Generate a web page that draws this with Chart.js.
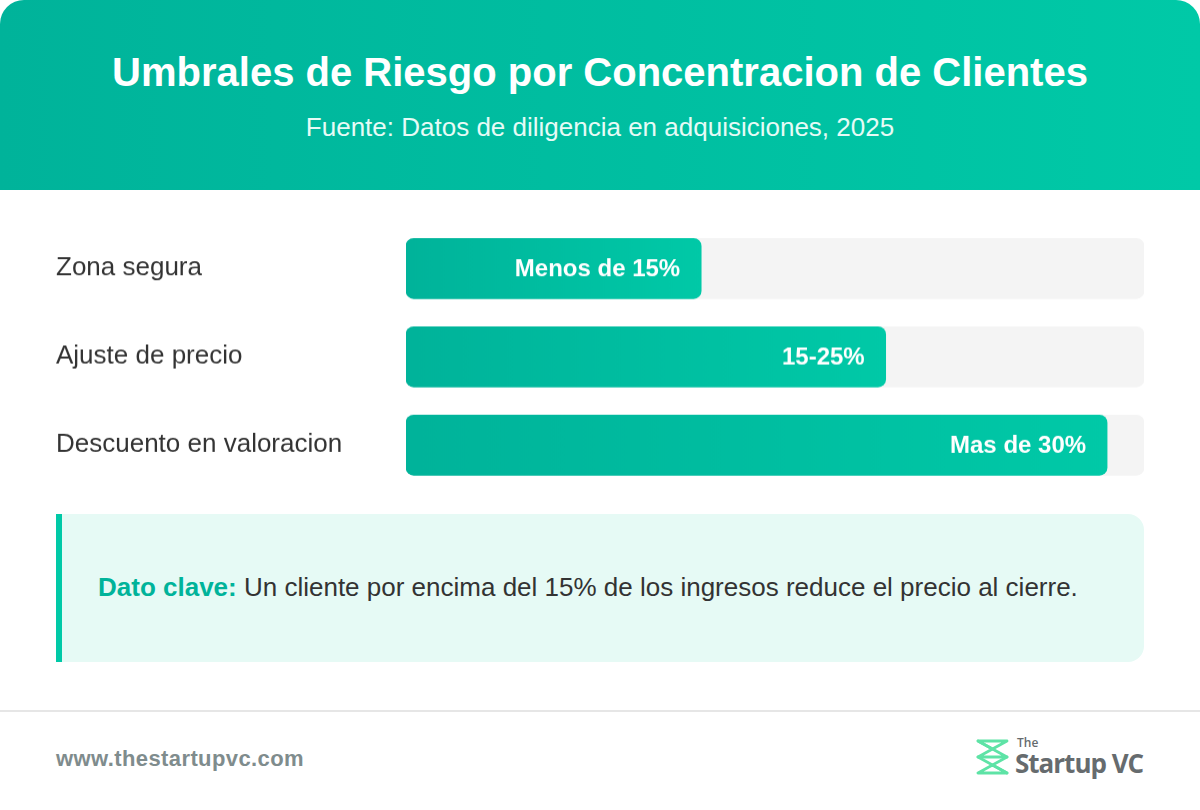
<!DOCTYPE html>
<html>
<head>
<meta charset="utf-8">
<script src="https://cdn.jsdelivr.net/npm/chart.js@4.4.1/dist/chart.umd.min.js"></script>
<style>
  html, body { margin: 0; padding: 0; background: #ffffff; }
  body { width: 1200px; height: 810px; position: relative; overflow: hidden; font-family: "Liberation Sans", Arial, sans-serif; }
  .card { position: absolute; left: 0; top: 0; width: 1200px; height: 810px; background: #ffffff; border-radius: 24px; overflow: hidden; }
  .header { position: absolute; left: 0; top: 0; width: 1200px; height: 190px; background: linear-gradient(90deg, #00b39a 0%, #00c9a7 100%); }
  .title { position: absolute; left: 0; width: 1200px; top: 46px; text-align: center; color: #ffffff; font-weight: bold; font-size: 40px; line-height: 52px; }
  .subtitle { position: absolute; left: 0; width: 1200px; top: 111px; text-align: center; color: #e6fbf6; font-size: 26px; line-height: 32px; }
  #chartWrap { position: absolute; left: 56px; top: 210px; width: 1088px; height: 292.6px; }
  .callout { position: absolute; left: 56px; top: 514px; width: 1088px; height: 148px; background: #e6faf5; border-radius: 0 16px 16px 0; box-sizing: border-box; border-left: 6px solid #00c9a7; }
  .callout p { margin: 0; position: absolute; left: 36px; top: 57px; font-size: 26px; line-height: 32px; color: #333333; }
  .callout b { color: #00b39a; }
  .footline { position: absolute; left: 0; top: 710px; width: 1200px; height: 2px; background: #e6e6e6; }
  .url { position: absolute; left: 56px; top: 745px; font-size: 22px; font-weight: bold; color: #7f8c8d; line-height: 28px; letter-spacing: 0.4px; }
  .logo { position: absolute; left: 972px; top: 734px; width: 180px; height: 46px; }
</style>
</head>
<body>
<div class="card">
  <div class="header">
    <div class="title">Umbrales de Riesgo por Concentracion de Clientes</div>
    <div class="subtitle">Fuente: Datos de diligencia en adquisiciones, 2025</div>
  </div>
  <div id="chartWrap"><canvas id="chart"></canvas></div>
  <div class="callout"><p><b>Dato clave:</b> Un cliente por encima del 15% de los ingresos reduce el precio al cierre.</p></div>
  <div class="footline"></div>
  <div class="url">www.thestartupvc.com</div>
  <svg class="logo" viewBox="0 0 180 46" xmlns="http://www.w3.org/2000/svg">
    <g fill="none" stroke="#5ee3a6" stroke-width="2.8" stroke-linejoin="round" stroke-linecap="round">
      <path d="M6 7 H35 L20.5 15 Z"/>
      <path d="M6 7 L35 23 H6 L20.5 15"/>
      <path d="M35 23 L6 39 H35 L20.5 31"/>
      <path d="M6 23 L35 39"/>
    </g>
    <text x="45" y="13" font-family="Open Sans, sans-serif" font-size="12" font-weight="600" fill="#666b6e">The</text>
    <text x="43" y="39" font-family="Open Sans, sans-serif" font-size="26" font-weight="700" fill="#666b6e" letter-spacing="-1">Startup VC</text>
  </svg>
</div>
<script>
const categories = ["Zona segura", "Ajuste de precio", "Descuento en valoracion"];
const barValues = [40, 65, 95];
const barLabels = ["Menos de 15%", "15-25%", "Mas de 30%"];
const trackValues = [100, 100, 100];

const barLabelPlugin = {
  id: 'barLabels',
  afterDatasetsDraw(chart) {
    const ctx = chart.ctx;
    const meta = chart.getDatasetMeta(0);
    ctx.save();
    ctx.fillStyle = '#ffffff';
    ctx.font = 'bold 24px "Liberation Sans", Arial, sans-serif';
    ctx.textAlign = 'right';
    ctx.textBaseline = 'middle';
    meta.data.forEach((bar, i) => {
      ctx.fillText(barLabels[i], bar.x - 21, bar.y + 1);
    });
    ctx.restore();
  }
};

function barGradient(context) {
  const chart = context.chart;
  const area = chart.chartArea;
  if (!area) return '#00b39a';
  const xScale = chart.scales.x;
  const v = context.raw;
  const end = xScale.getPixelForValue(v);
  const g = chart.ctx.createLinearGradient(area.left, 0, end, 0);
  g.addColorStop(0, '#00b39a');
  g.addColorStop(1, '#00c9a7');
  return g;
}

new Chart(document.getElementById('chart'), {
  type: 'bar',
  data: {
    labels: categories,
    datasets: [
      {
        data: barValues,
        backgroundColor: barGradient,
        borderRadius: 8,
        borderSkipped: false,
        barThickness: 60,
        grouped: false,
        order: 0
      },
      {
        data: trackValues,
        backgroundColor: '#f4f4f4',
        borderRadius: 8,
        borderSkipped: false,
        barThickness: 60,
        grouped: false,
        order: 1
      }
    ]
  },
  options: {
    indexAxis: 'y',
    responsive: true,
    maintainAspectRatio: false,
    animation: false,
    layout: { padding: 0 },
    plugins: { legend: { display: false }, tooltip: { enabled: false } },
    scales: {
      x: { display: false, min: 0, max: 100 },
      y: {
        grid: { display: false },
        border: { display: false },
        ticks: {
          crossAlign: 'far',
          color: '#333333',
          font: { family: '"Liberation Sans", Arial, sans-serif', size: 26, lineHeight: 1.1 },
          padding: 0
        },
        afterFit(scale) { scale.width = 350; }
      }
    }
  },
  plugins: [barLabelPlugin]
});
</script>
</body>
</html>
